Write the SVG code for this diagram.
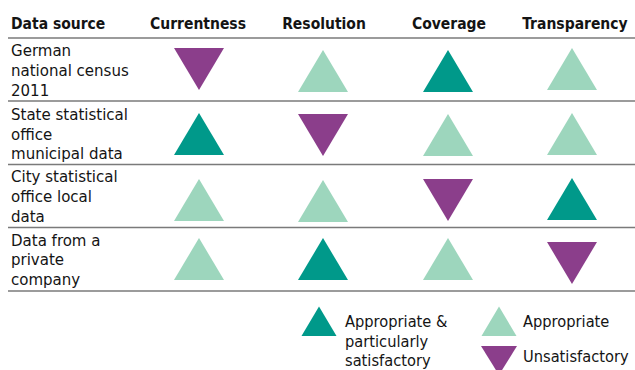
<svg xmlns="http://www.w3.org/2000/svg" width="635" height="370" viewBox="0 0 635 370">
<style>
text{font-family:"DejaVu Sans Condensed","DejaVu Sans",sans-serif;font-stretch:condensed;fill:#141414;font-size:16.7px}
.h{font-weight:bold;font-size:15.5px;text-anchor:middle}
.hl{font-weight:bold;font-size:15.5px}
.lg{font-size:16.3px}
.rule{stroke:#7a7a7a;stroke-width:1.6}
.dk{fill:#00998a}
.lt{fill:#9dd6bd}
.pu{fill:#8b3e8b}
</style>
<defs>
<polygon id="up" points="0,-21 25,21 -25,21"/>
<polygon id="dn" points="-25,-21 25,-21 0,21"/>
</defs>
<g id="header">
<text class="hl" x="11" y="29">Data source</text>
<text class="h" x="198" y="29">Currentness</text>
<text class="h" x="324" y="29">Resolution</text>
<text class="h" x="449" y="29">Coverage</text>
<text class="h" x="575" y="29">Transparency</text>
</g>
<g id="rules">
<line class="rule" x1="8" y1="38" x2="635" y2="38"/>
<line class="rule" x1="8" y1="101" x2="635" y2="101"/>
<line class="rule" x1="8" y1="164.5" x2="635" y2="164.5"/>
<line class="rule" x1="8" y1="227.5" x2="635" y2="227.5"/>
<line class="rule" x1="8" y1="291" x2="635" y2="291"/>
</g>
<g id="row1">
<text x="11" y="56">German</text>
<text x="11" y="76">national census</text>
<text x="11" y="96">2011</text>
<use href="#dn" class="pu" x="199" y="69"/>
<use href="#up" class="lt" x="323" y="71"/>
<use href="#up" class="dk" x="448" y="71"/>
<use href="#up" class="lt" x="572" y="69"/>
</g>
<g id="row2">
<text x="11" y="120">State statistical</text>
<text x="11" y="140">office</text>
<text x="11" y="159">municipal data</text>
<use href="#up" class="dk" x="199" y="134"/>
<use href="#dn" class="pu" x="323" y="135"/>
<use href="#up" class="lt" x="448" y="135"/>
<use href="#up" class="lt" x="572" y="134"/>
</g>
<g id="row3">
<text x="11" y="182">City statistical</text>
<text x="11" y="202">office local</text>
<text x="11" y="222">data</text>
<use href="#up" class="lt" x="199" y="200"/>
<use href="#up" class="lt" x="323" y="201"/>
<use href="#dn" class="pu" x="448" y="200"/>
<use href="#up" class="dk" x="572" y="199"/>
</g>
<g id="row4">
<text x="11" y="246">Data from a</text>
<text x="11" y="265">private</text>
<text x="11" y="285">company</text>
<use href="#up" class="lt" x="199" y="259"/>
<use href="#up" class="dk" x="323" y="259"/>
<use href="#up" class="lt" x="448" y="259"/>
<use href="#dn" class="pu" x="572" y="263"/>
</g>
<g id="legend">
<polygon class="dk" points="319,306.5 336.5,336 301.5,336"/>
<text class="lg" x="345" y="327">Appropriate &amp;</text>
<text class="lg" x="345" y="346.5">particularly</text>
<text class="lg" x="345" y="366">satisfactory</text>
<polygon class="lt" points="499,306.5 516.5,336 481.5,336"/>
<text class="lg" x="523" y="327">Appropriate</text>
<polygon class="pu" points="481,346 517,346 499,375"/>
<text class="lg" x="523" y="362">Unsatisfactory</text>
</g>
</svg>
